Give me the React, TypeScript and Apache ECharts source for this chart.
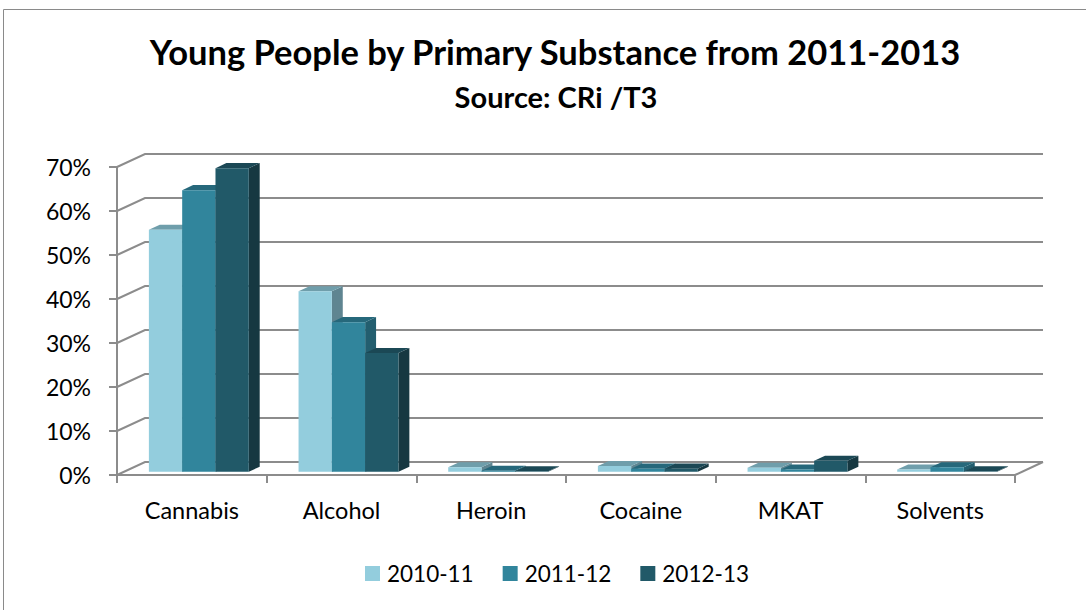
import React, { useEffect, useRef } from "react";
import * as echarts from "echarts";

const categories = ["Cannabis", "Alcohol", "Heroin", "Cocaine", "MKAT", "Solvents"];
const seriesNames = ["2010-11", "2011-12", "2012-13"];
const values1011 = [0.55, 0.41, 0.01, 0.013, 0.009, 0.005];
const values1112 = [0.64, 0.34, 0.002, 0.007, 0.005, 0.01];
const values1213 = [0.69, 0.27, 0.001, 0.007, 0.025, 0.001];
const yTicks = [0, 0.1, 0.2, 0.3, 0.4, 0.5, 0.6, 0.7];

const FRONT = ["#93CDDD", "#31859C", "#215968"];
const TOP = ["#6f9eab", "#26687b", "#1b4855"];
const SIDE = ["#5f8591", "#235e6f", "#163841"];

const DX = 28;
const DY = 13;
const F1 = 0.25;
const F2 = 0.64;
const GRID_COLOR = "#8c8c8c";
const FONT = "Lato, 'Open Sans', sans-serif";

function barSeries(idx: number, name: string, vals: number[]) {
  return {
    type: "custom",
    name,
    z: 3,
    itemStyle: { color: FRONT[idx] },
    data: vals.map((v, i) => [i, v]),
    renderItem: (params: any, api: any) => {
      const c = api.value(0);
      const v = api.value(1);
      const base = api.coord([c, 0]);
      const top = api.coord([c, v]);
      const catW = api.size([1, 0])[0];
      const bw = catW * 0.2225;
      const x0 = base[0] + F1 * DX - 1.5 * bw + idx * bw;
      const yb = base[1] - F1 * DY;
      const yt = top[1] - F1 * DY;
      const sx = (F2 - F1) * DX;
      const sy = (F2 - F1) * DY;
      return {
        type: "group",
        children: [
          {
            type: "polygon",
            shape: {
              points: [
                [x0 + bw, yb],
                [x0 + bw + sx, yb - sy],
                [x0 + bw + sx, yt - sy],
                [x0 + bw, yt],
              ],
            },
            style: { fill: SIDE[idx] },
          },
          {
            type: "polygon",
            shape: {
              points: [
                [x0, yt],
                [x0 + bw, yt],
                [x0 + bw + sx, yt - sy],
                [x0 + sx, yt - sy],
              ],
            },
            style: { fill: TOP[idx] },
          },
          {
            type: "rect",
            shape: { x: x0, y: yt, width: bw, height: Math.max(yb - yt, 0.5) },
            style: { fill: FRONT[idx] },
          },
        ],
      };
    },
  };
}

export default function App() {
  const ref = useRef<HTMLDivElement>(null);
  useEffect(() => {
    if (!ref.current) return;
    const chart = echarts.init(ref.current, undefined, { renderer: "svg" });
    chart.setOption({
      animation: false,
      backgroundColor: "#ffffff",
      title: [
        {
          text: "Young People by Primary Substance from 2011-2013",
          left: 550,
          top: 29,
          textAlign: "center",
          textStyle: { fontFamily: FONT, fontWeight: "bold", fontSize: 34.5, color: "#000" },
        },
        {
          text: "Source: CRi /T3",
          left: 551,
          top: 77,
          textAlign: "center",
          textStyle: { fontFamily: FONT, fontWeight: "bold", fontSize: 29, color: "#000" },
        },
      ],
      graphic: [
        {
          type: "rect",
          shape: { x: 3.5, y: 9.5, width: 1200, height: 800 },
          style: { fill: "none", stroke: "#8a8a8a", lineWidth: 1 },
          silent: true,
        },
      ],
      legend: {
        data: seriesNames,
        top: 557,
        left: 360,
        icon: "rect",
        itemWidth: 15,
        itemHeight: 15,
        itemGap: 29,
        textStyle: { fontFamily: FONT, fontSize: 22.5, color: "#000", padding: [0, 0, 0, 2] },
      },
      grid: { left: 117, right: 71, top: 167, bottom: 135 },
      xAxis: {
        type: "category",
        data: categories,
        boundaryGap: true,
        axisLine: { show: true, lineStyle: { color: GRID_COLOR, width: 2 } },
        axisTick: { show: true, length: 8, alignWithLabel: false, lineStyle: { color: GRID_COLOR, width: 2 } },
        axisLabel: { fontFamily: FONT, fontSize: 23.5, color: "#000", margin: 23 },
        splitLine: { show: false },
      },
      yAxis: {
        type: "value",
        min: 0,
        max: 0.7,
        interval: 0.1,
        axisLine: { show: true, lineStyle: { color: GRID_COLOR, width: 2 } },
        axisTick: { show: true, length: 8, lineStyle: { color: GRID_COLOR, width: 2 } },
        axisLabel: {
          fontFamily: FONT,
          fontSize: 23,
          color: "#000",
          margin: 26,
          formatter: (v: number) => Math.round(v * 100) + "%",
        },
        splitLine: { show: false },
      },
      series: [
        {
          type: "custom",
          name: "walls",
          z: 1,
          silent: true,
          data: yTicks.map((t) => [0, t]),
          renderItem: (params: any, api: any) => {
            const cs = params.coordSys;
            const y = api.coord([0, api.value(1)])[1];
            const xl = cs.x;
            const xr = cs.x + cs.width;
            const children: any[] = [
              {
                type: "polyline",
                shape: { points: [[xl, y], [xl + DX, y - DY], [xr + DX, y - DY]] },
                style: { stroke: GRID_COLOR, lineWidth: 2, fill: "none" },
              },
            ];
            if (api.value(1) === 0) {
              children.push({
                type: "line",
                shape: { x1: xr, y1: y, x2: xr + DX, y2: y - DY },
                style: { stroke: GRID_COLOR, lineWidth: 2 },
              });
            }
            return { type: "group", children };
          },
        },
        barSeries(0, seriesNames[0], values1011),
        barSeries(1, seriesNames[1], values1112),
        barSeries(2, seriesNames[2], values1213),
      ],
    });
    return () => chart.dispose();
  }, []);
  return (
    <div
      ref={ref}
      style={{ position: "fixed", left: 0, top: 0, width: 1086, height: 610 }}
    />
  );
}
